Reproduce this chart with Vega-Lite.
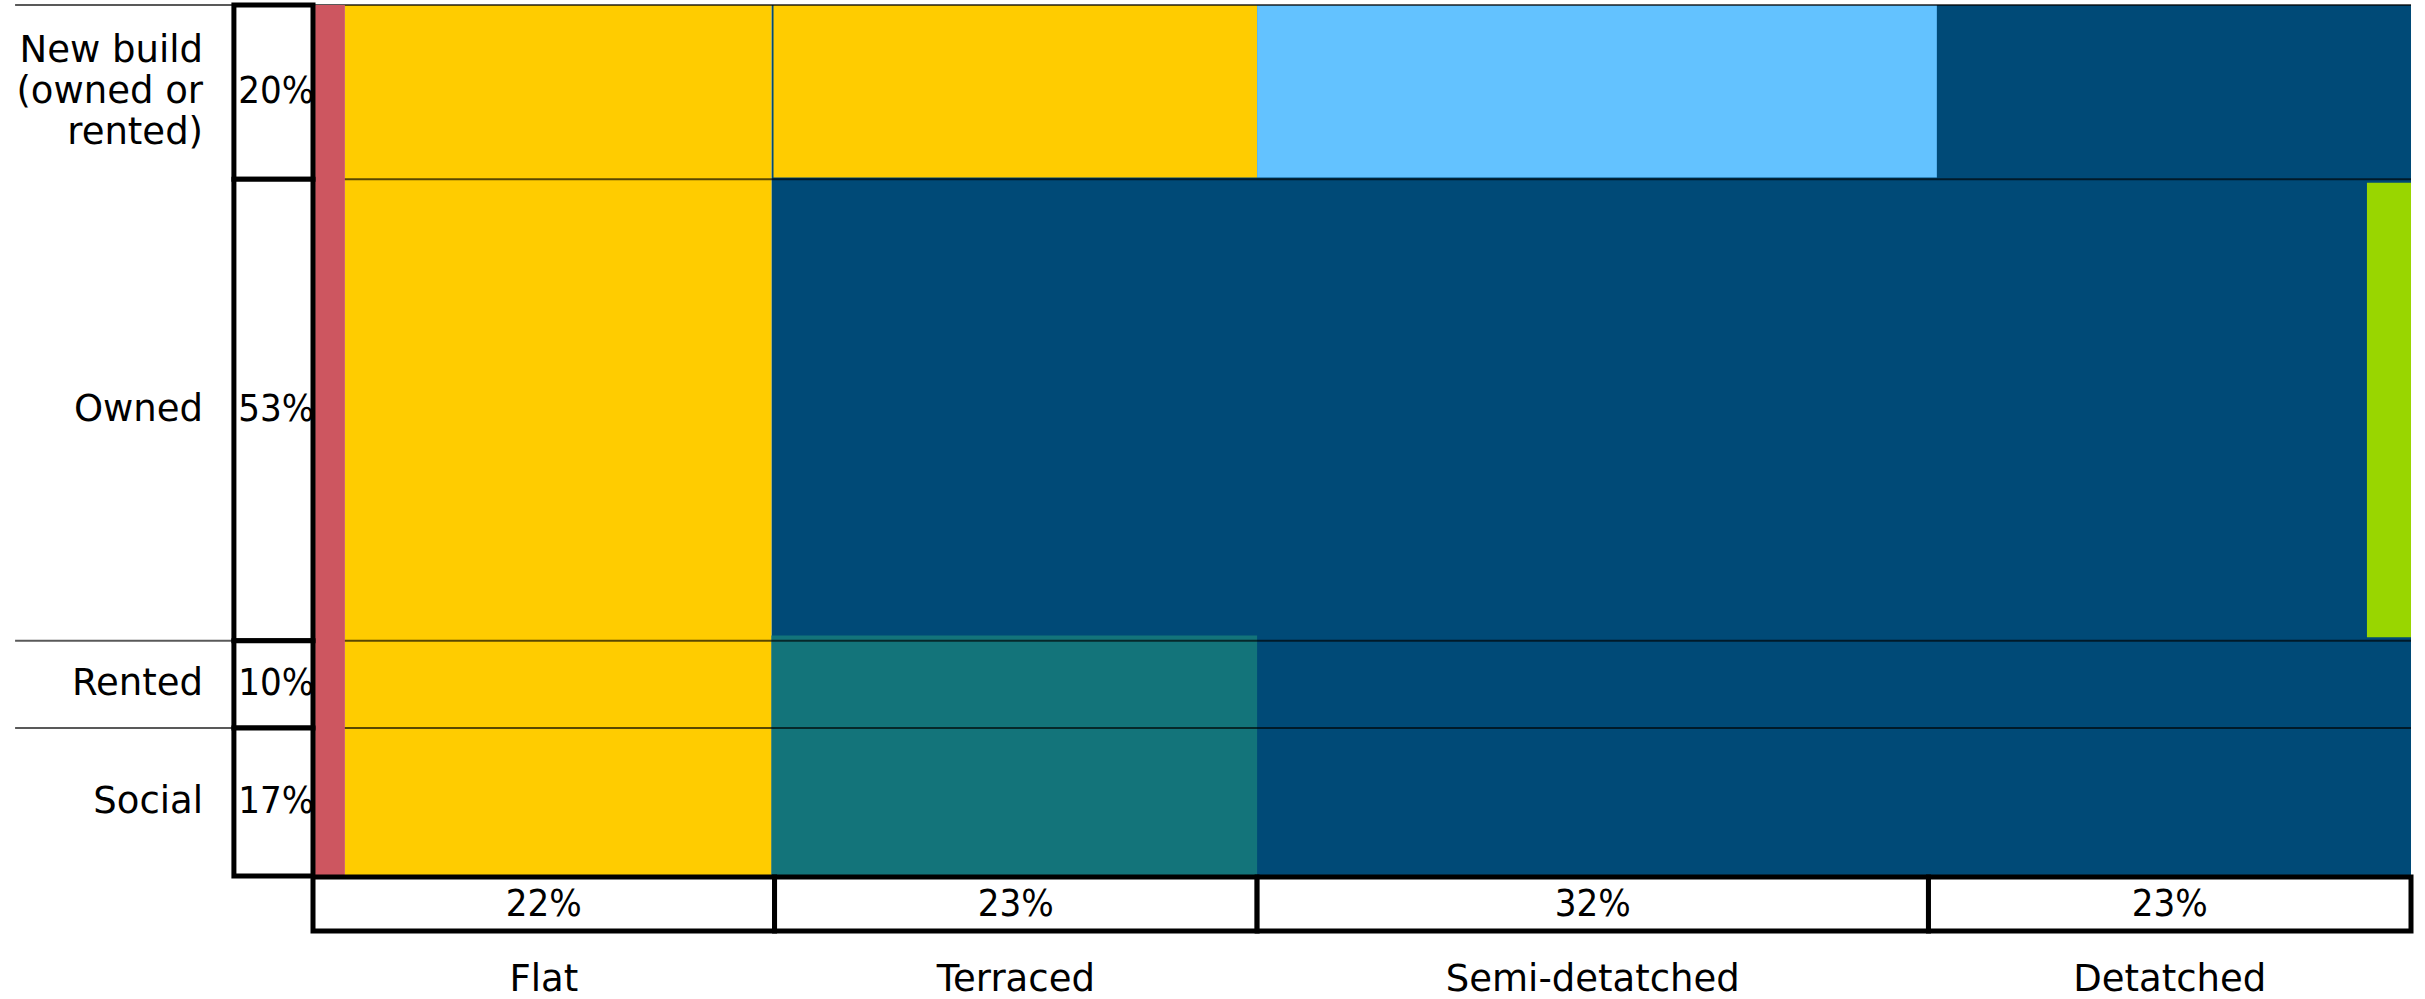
{
  "$schema": "https://vega.github.io/schema/vega-lite/v6.json",
  "width": 2425,
  "height": 999,
  "autosize": {"type": "fit", "contains": "padding"},
  "padding": 0,
  "background": "white",
  "config": {
    "view": {"stroke": null},
    "text": {"font": "DejaVu Sans", "fontSize": 37, "color": "#000000"}
  },
  "datasets": {
    "tenure": [
      {"tenure": "New build\n(owned or\nrented)", "share": 20, "rank": 1},
      {"tenure": "Owned", "share": 53, "rank": 2},
      {"tenure": "Rented", "share": 10, "rank": 3},
      {"tenure": "Social", "share": 17, "rank": 4}
    ],
    "dwelling": [
      {"dwelling": "Flat", "share": 22, "rank": 1},
      {"dwelling": "Terraced", "share": 23, "rank": 2},
      {"dwelling": "Semi-detatched", "share": 32, "rank": 3},
      {"dwelling": "Detatched", "share": 23, "rank": 4}
    ],
    "cells": [
      {"group": "navy", "x0": 21.85, "x1": 100, "y0": 0, "y1": 100},
      {"group": "yellow", "x0": 1.52, "x1": 21.85, "y0": 0, "y1": 100},
      {"group": "yellow", "x0": 21.95, "x1": 45, "y0": 0, "y1": 19.8},
      {"group": "sky", "x0": 45, "x1": 77.4, "y0": 0, "y1": 19.8},
      {"group": "teal", "x0": 21.85, "x1": 45, "y0": 72.4, "y1": 100},
      {"group": "lime", "x0": 97.9, "x1": 100, "y0": 20.4, "y1": 72.6},
      {"group": "red", "x0": 0.1, "x1": 1.52, "y0": 0, "y1": 100.2}
    ]
  },
  "layer": [
    {
      "data": {"name": "cells"},
      "transform": [{"filter": "datum.group !== 'red'"}],
      "mark": {"type": "rect"},
      "encoding": {
        "x": {"field": "x0", "type": "quantitative", "scale": {"domain": [-14.919, 100.667], "nice": false, "zero": false}, "axis": null},
        "x2": {"field": "x1"},
        "y": {"field": "y0", "type": "quantitative", "scale": {"domain": [-0.574, 114.12], "reverse": true, "nice": false, "zero": false}, "axis": null},
        "y2": {"field": "y1"},
        "color": {
          "field": "group", "type": "nominal", "legend": null,
          "scale": {
            "domain": ["navy", "yellow", "sky", "teal", "lime", "red"],
            "range": ["#004A77", "#FFCC00", "#63C2FF", "#13747A", "#99D600", "#CD5660"]
          }
        }
      }
    },
    {
      "data": {"name": "tenure"},
      "transform": [
        {"window": [{"op": "sum", "field": "share", "as": "end"}], "sort": [{"field": "rank"}]},
        {"calculate": "datum.end - datum.share", "as": "start"},
        {"filter": "datum.rank !== 2"}
      ],
      "mark": {"type": "rule", "color": "#000000", "opacity": 0.65, "strokeWidth": 2},
      "encoding": {
        "x": {"datum": -14.2, "type": "quantitative", "scale": {"domain": [-14.919, 100.667], "nice": false, "zero": false}, "axis": null},
        "x2": {"datum": 100},
        "y": {"field": "start", "type": "quantitative", "scale": {"domain": [-0.574, 114.12], "reverse": true, "nice": false, "zero": false}, "axis": null}
      }
    },
    {
      "data": {"name": "tenure"},
      "transform": [
        {"window": [{"op": "sum", "field": "share", "as": "end"}], "sort": [{"field": "rank"}]},
        {"calculate": "datum.end - datum.share", "as": "start"},
        {"filter": "datum.rank === 2"}
      ],
      "mark": {"type": "rule", "color": "#000000", "opacity": 0.65, "strokeWidth": 2},
      "encoding": {
        "x": {"datum": -3.7, "type": "quantitative", "scale": {"domain": [-14.919, 100.667], "nice": false, "zero": false}, "axis": null},
        "x2": {"datum": 100},
        "y": {"field": "start", "type": "quantitative", "scale": {"domain": [-0.574, 114.12], "reverse": true, "nice": false, "zero": false}, "axis": null}
      }
    },
    {
      "data": {"name": "cells"},
      "transform": [{"filter": "datum.group === 'red'"}],
      "mark": {"type": "rect", "color": "#CD5660"},
      "encoding": {
        "x": {"field": "x0", "type": "quantitative", "scale": {"domain": [-14.919, 100.667], "nice": false, "zero": false}, "axis": null},
        "x2": {"field": "x1"},
        "y": {"field": "y0", "type": "quantitative", "scale": {"domain": [-0.574, 114.12], "reverse": true, "nice": false, "zero": false}, "axis": null},
        "y2": {"field": "y1"}
      }
    },
    {
      "data": {"name": "tenure"},
      "transform": [
        {"window": [{"op": "sum", "field": "share", "as": "end"}], "sort": [{"field": "rank"}]},
        {"calculate": "datum.end - datum.share", "as": "start"}
      ],
      "mark": {"type": "rect", "fill": "#FFFFFF", "stroke": "#000000", "strokeWidth": 5},
      "encoding": {
        "x": {"datum": -3.77, "type": "quantitative", "scale": {"domain": [-14.919, 100.667], "nice": false, "zero": false}, "axis": null},
        "x2": {"datum": 0},
        "y": {"field": "start", "type": "quantitative", "scale": {"domain": [-0.574, 114.12], "reverse": true, "nice": false, "zero": false}, "axis": null},
        "y2": {"field": "end"}
      }
    },
    {
      "data": {"name": "tenure"},
      "transform": [
        {"window": [{"op": "sum", "field": "share", "as": "end"}], "sort": [{"field": "rank"}]},
        {"calculate": "datum.end - datum.share / 2", "as": "mid"},
        {"calculate": "datum.share + '%'", "as": "pct"}
      ],
      "mark": {"type": "text", "align": "center", "baseline": "middle", "font": "DejaVu Sans Condensed, DejaVu Sans", "fontSize": 38},
      "encoding": {
        "x": {"datum": -1.75, "type": "quantitative", "scale": {"domain": [-14.919, 100.667], "nice": false, "zero": false}, "axis": null},
        "y": {"field": "mid", "type": "quantitative", "scale": {"domain": [-0.574, 114.12], "reverse": true, "nice": false, "zero": false}, "axis": null},
        "text": {"field": "pct"}
      }
    },
    {
      "data": {"name": "tenure"},
      "transform": [
        {"window": [{"op": "sum", "field": "share", "as": "end"}], "sort": [{"field": "rank"}]},
        {"calculate": "datum.end - datum.share / 2", "as": "mid"},
        {"filter": "datum.rank !== 1"}
      ],
      "mark": {"type": "text", "align": "right", "baseline": "middle"},
      "encoding": {
        "x": {"datum": -5.24, "type": "quantitative", "scale": {"domain": [-14.919, 100.667], "nice": false, "zero": false}, "axis": null},
        "y": {"field": "mid", "type": "quantitative", "scale": {"domain": [-0.574, 114.12], "reverse": true, "nice": false, "zero": false}, "axis": null},
        "text": {"field": "tenure"}
      }
    },
    {
      "data": {"name": "tenure"},
      "transform": [
        {"window": [{"op": "sum", "field": "share", "as": "end"}], "sort": [{"field": "rank"}]},
        {"calculate": "datum.end - datum.share / 2", "as": "mid"},
        {"filter": "datum.rank === 1"}
      ],
      "mark": {"type": "text", "align": "right", "baseline": "middle", "lineBreak": "\n", "lineHeight": 41, "dy": -41},
      "encoding": {
        "x": {"datum": -5.24, "type": "quantitative", "scale": {"domain": [-14.919, 100.667], "nice": false, "zero": false}, "axis": null},
        "y": {"field": "mid", "type": "quantitative", "scale": {"domain": [-0.574, 114.12], "reverse": true, "nice": false, "zero": false}, "axis": null},
        "text": {"field": "tenure"}
      }
    },
    {
      "data": {"name": "dwelling"},
      "transform": [
        {"window": [{"op": "sum", "field": "share", "as": "end"}], "sort": [{"field": "rank"}]},
        {"calculate": "datum.end - datum.share", "as": "start"}
      ],
      "mark": {"type": "rect", "fill": "#FFFFFF", "stroke": "#000000", "strokeWidth": 5},
      "encoding": {
        "x": {"field": "start", "type": "quantitative", "scale": {"domain": [-14.919, 100.667], "nice": false, "zero": false}, "axis": null},
        "x2": {"field": "end"},
        "y": {"datum": 100.1, "type": "quantitative", "scale": {"domain": [-0.574, 114.12], "reverse": true, "nice": false, "zero": false}, "axis": null},
        "y2": {"datum": 106.3}
      }
    },
    {
      "data": {"name": "dwelling"},
      "transform": [
        {"window": [{"op": "sum", "field": "share", "as": "end"}], "sort": [{"field": "rank"}]},
        {"calculate": "datum.end - datum.share / 2", "as": "mid"},
        {"calculate": "datum.share + '%'", "as": "pct"}
      ],
      "mark": {"type": "text", "align": "center", "baseline": "middle", "font": "DejaVu Sans Condensed, DejaVu Sans", "fontSize": 38},
      "encoding": {
        "x": {"field": "mid", "type": "quantitative", "scale": {"domain": [-14.919, 100.667], "nice": false, "zero": false}, "axis": null},
        "y": {"datum": 103.3, "type": "quantitative", "scale": {"domain": [-0.574, 114.12], "reverse": true, "nice": false, "zero": false}, "axis": null},
        "text": {"field": "pct"}
      }
    },
    {
      "data": {"name": "dwelling"},
      "transform": [
        {"window": [{"op": "sum", "field": "share", "as": "end"}], "sort": [{"field": "rank"}]},
        {"calculate": "datum.end - datum.share / 2", "as": "mid"}
      ],
      "mark": {"type": "text", "align": "center", "baseline": "middle"},
      "encoding": {
        "x": {"field": "mid", "type": "quantitative", "scale": {"domain": [-14.919, 100.667], "nice": false, "zero": false}, "axis": null},
        "y": {"datum": 111.9, "type": "quantitative", "scale": {"domain": [-0.574, 114.12], "reverse": true, "nice": false, "zero": false}, "axis": null},
        "text": {"field": "dwelling"}
      }
    }
  ]
}
